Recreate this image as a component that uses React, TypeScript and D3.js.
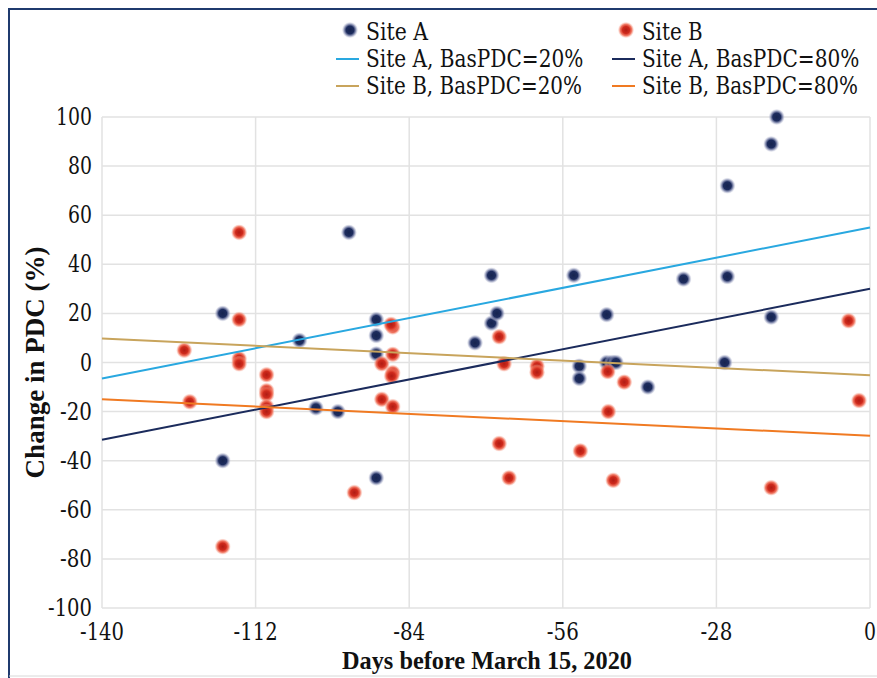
import * as d3 from "d3";

const WIDTH = 877;
const HEIGHT = 678;
const MARGIN = { top: 117, left: 102, right: 7, bottom: 70 };

// Site A: [days before March 15, change in PDC %]
const siteA: [number, number][] = [
  [-118, 20], [-118, -40], [-104, 9], [-101, -18.5], [-97, -20], [-95, 53],
  [-90, 17.5], [-90, 11], [-90, 3.5], [-90, -47], [-72, 8], [-69, 16],
  [-69, 35.5], [-68, 20], [-54, 35.5], [-53, -1.5], [-53, -6.5], [-48, 19.5],
  [-48, 0], [-47, 0], [-46.3, 0], [-40.5, -10], [-34, 34], [-26.5, 0],
  [-26, 72], [-26, 35], [-18, 89], [-17, 100], [-18, 18.5],
];

const siteB: [number, number][] = [
  [-125, 5], [-124, -16], [-118, -75], [-115, 53], [-115, 17.5], [-115, 1.5],
  [-115, -0.5], [-110, -5], [-110, -11.5], [-110, -13], [-110, -18], [-110, -20],
  [-94, -53], [-89, -0.5], [-89, -15], [-87, 14.5], [-87.3, 15.5], [-87, 3.3],
  [-87, -4.2], [-87.2, -5.5], [-87, -18], [-67.6, 10.5], [-67.6, -33], [-66.7, -0.5],
  [-65.8, -47], [-60.7, -1.5], [-60.7, -4], [-52.8, -36], [-47.8, -3.7], [-47.7, -20],
  [-46.8, -48], [-44.8, -8], [-18, -51], [-3.9, 17], [-2, -15.5],
];

// fitted lines, value at day -140 and at day 0
const trendLines = [
  { name: "Site A, BasPDC=20%", color: "#29a8e0", from: -6.5, to: 55 },
  { name: "Site A, BasPDC=80%", color: "#1b2b5c", from: -31.5, to: 30 },
  { name: "Site B, BasPDC=20%", color: "#c8a45c", from: 9.8, to: -5.2 },
  { name: "Site B, BasPDC=80%", color: "#f07a22", from: -15, to: -29.8 },
];

const xTicks = [-140, -112, -84, -56, -28, 0];
const yTicks = [100, 80, 60, 40, 20, 0, -20, -40, -60, -80, -100];

const serif = { fontFamily: "'DejaVu Serif'" };
const serifBold = { fontFamily: "'Liberation Serif'", fontWeight: "bold" as const };

// Times-like advance widths (per 1000 em), used to squeeze the wider serif
const ADV: Record<string, number> = {
  S: 556, i: 278, t: 278, e: 444, " ": 250, A: 722, ",": 250, B: 667, a: 444,
  s: 389, P: 556, D: 722, C: 667, "=": 564, "%": 833, "-": 333,
};
const timesWidth = (s: string, size: number) =>
  (s.split("").reduce((acc, ch) => acc + (ADV[ch] ?? 500), 0) * size) / 1000;

function Label({ text, size, ...rest }: any) {
  const str = String(text);
  return (
    <text
      {...rest}
      style={{ ...serif, fontSize: size }}
      textLength={timesWidth(str, size)}
      lengthAdjust="spacingAndGlyphs"
      fill="#111"
    >
      {str}
    </text>
  );
}

export default function App() {
  const boundsWidth = WIDTH - MARGIN.left - MARGIN.right;
  const boundsHeight = HEIGHT - MARGIN.top - MARGIN.bottom;

  const xScale = d3.scaleLinear().domain([-140, 0]).range([0, boundsWidth]);
  const yScale = d3.scaleLinear().domain([-100, 100]).range([boundsHeight, 0]);
  const linePath = d3
    .line<[number, number]>()
    .x((d) => xScale(d[0]))
    .y((d) => yScale(d[1]));

  const legendRows = [
    { x: 336, y: 32, kind: "dot", id: "gA", label: "Site A" },
    { x: 612, y: 32, kind: "dot", id: "gB", label: "Site B" },
    { x: 336, y: 59, kind: "line", color: trendLines[0].color, label: trendLines[0].name },
    { x: 612, y: 59, kind: "line", color: trendLines[1].color, label: trendLines[1].name },
    { x: 336, y: 86, kind: "line", color: trendLines[2].color, label: trendLines[2].name },
    { x: 612, y: 86, kind: "line", color: trendLines[3].color, label: trendLines[3].name },
  ];

  return (
    <svg width={WIDTH} height={HEIGHT} style={{ position: "absolute", left: 0, top: 0, background: "#fff" }}>
      <defs>
        <radialGradient id="gA">
          <stop offset="0%" stopColor="#16244f" />
          <stop offset="50%" stopColor="#1d2c5e" />
          <stop offset="72%" stopColor="#6d76a0" stopOpacity={0.8} />
          <stop offset="100%" stopColor="#c3c7dc" stopOpacity={0.15} />
        </radialGradient>
        <radialGradient id="gB">
          <stop offset="0%" stopColor="#b01c14" />
          <stop offset="45%" stopColor="#cf2a1c" />
          <stop offset="72%" stopColor="#ee6048" stopOpacity={0.85} />
          <stop offset="100%" stopColor="#f8b2a0" stopOpacity={0.15} />
        </radialGradient>
      </defs>
      <rect width={WIDTH} height={HEIGHT} fill="#fff" />
      {/* frame */}
      <line x1={9} x2={9} y1={8} y2={HEIGHT} stroke="#1f3a6e" strokeWidth={2} />
      <line x1={8} x2={WIDTH} y1={9} y2={9} stroke="#1f3a6e" strokeWidth={2} />
      <line x1={9} x2={WIDTH} y1={676} y2={676} stroke="#d8d8d8" strokeWidth={1} />

      {/* legend */}
      {legendRows.map((r, i) => (
        <g key={i}>
          {r.kind === "dot" ? (
            <circle cx={r.x + 14} cy={r.y - 2} r={8} fill={`url(#${r.id})`} />
          ) : (
            <line x1={r.x} x2={r.x + 23} y1={r.y} y2={r.y} stroke={r.color} strokeWidth={2} />
          )}
          <Label x={r.x + 30} y={r.y + 8} size={24.5} text={r.label} />
        </g>
      ))}

      <g transform={`translate(${MARGIN.left},${MARGIN.top})`}>
        {yTicks.map((v) => (
          <g key={v}>
            <line x1={0} x2={boundsWidth} y1={yScale(v)} y2={yScale(v)} stroke="#e2e2e2" strokeWidth={1.5} />
            <Label x={-10} y={yScale(v) + 8} textAnchor="end" size={24} text={v} />
          </g>
        ))}
        {xTicks.map((v) => (
          <g key={v}>
            <line x1={xScale(v)} x2={xScale(v)} y1={0} y2={boundsHeight} stroke="#e2e2e2" strokeWidth={1.5} />
            <Label x={xScale(v)} y={boundsHeight + 32} textAnchor="middle" size={24} text={v} />
          </g>
        ))}

        {siteA.map((d, i) => (
          <circle key={`a${i}`} cx={xScale(d[0])} cy={yScale(d[1])} r={8} fill="url(#gA)" />
        ))}
        {siteB.map((d, i) => (
          <circle key={`b${i}`} cx={xScale(d[0])} cy={yScale(d[1])} r={8} fill="url(#gB)" />
        ))}

        {trendLines.map((t) => (
          <path
            key={t.name}
            d={linePath([[-140, t.from], [0, t.to]]) ?? ""}
            fill="none"
            stroke={t.color}
            strokeWidth={2}
          />
        ))}

        <text
          x={boundsWidth / 2 + 1}
          y={boundsHeight + 61}
          textAnchor="middle"
          style={{ ...serifBold, fontSize: 24.3 }}
          fill="#111"
        >
          Days before March 15, 2020
        </text>
        <text
          transform={`translate(${-58},${boundsHeight / 2}) rotate(-90)`}
          textAnchor="middle"
          style={{ ...serifBold, fontSize: 27 }}
          fill="#111"
        >
          Change in PDC (%)
        </text>
      </g>
    </svg>
  );
}
